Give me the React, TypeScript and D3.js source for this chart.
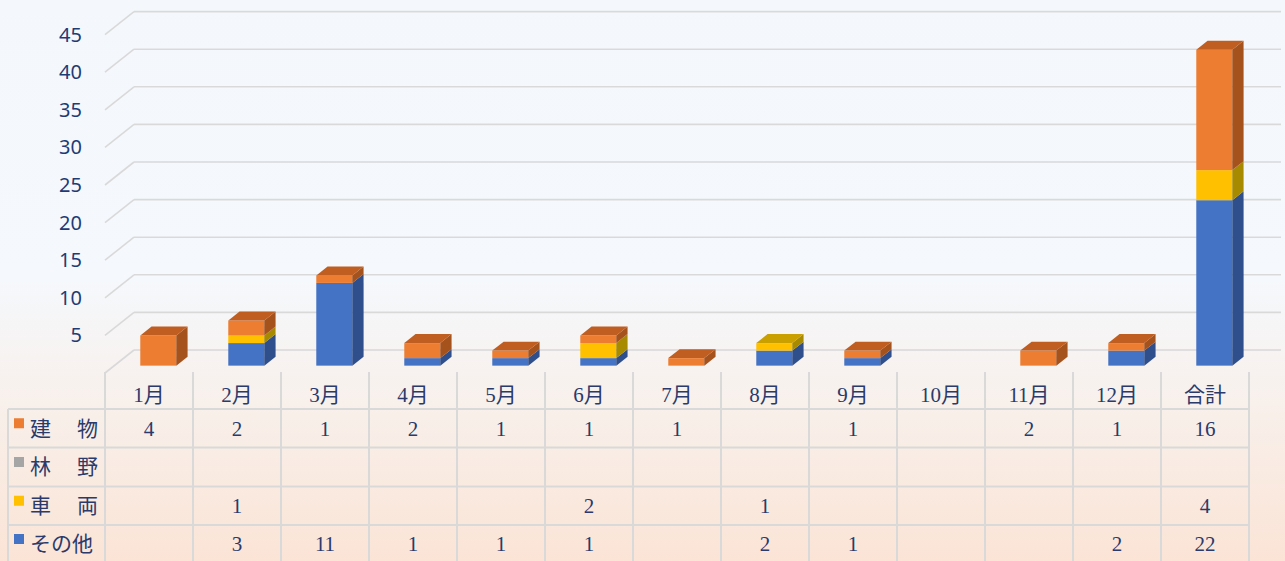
import React from "react";
import * as d3 from "d3";

// chart data
const categories = ["1月", "2月", "3月", "4月", "5月", "6月", "7月", "8月", "9月", "10月", "11月", "12月", "合計"];
const buildingValues = [4, 2, 1, 2, 1, 1, 1, null, 1, null, 2, 1, 16];
const forestValues = [null, null, null, null, null, null, null, null, null, null, null, null, null];
const vehicleValues = [null, 1, null, null, null, 2, null, 1, null, null, null, null, 4];
const otherValues = [null, 3, 11, 1, 1, 1, null, 2, 1, null, null, 2, 22];
const yTicks = [5, 10, 15, 20, 25, 30, 35, 40, 45];

const seriesInfo = [
  { key: "building", label: "建物", values: buildingValues, front: "#ED7D31", top: "#BF5E20", side: "#A5521C" },
  { key: "forest", label: "林野", values: forestValues, front: "#A5A5A5", top: "#8A8A8A", side: "#777777" },
  { key: "vehicle", label: "車両", values: vehicleValues, front: "#FFC000", top: "#C9A000", side: "#A88A00" },
  { key: "other", label: "その他", values: otherValues, front: "#4472C4", top: "#3A62A8", side: "#2F4F8C" },
];

const W = 1285;
const H = 561;
const DX = 29; // depth offset of the 3d box
const DY = 23;
const D1 = 0.32; // bar front depth
const D2 = 0.71; // bar back depth
const TEXT = "#2a3a6c";
const GRID = "#d9d9d9";

export default function App() {
  const x = d3.scaleBand<string>().domain(categories).range([105, 1249]).paddingInner(0);
  const y = d3.scaleLinear().domain([0, 45]).range([373, 373 - 45 * 7.52]);
  const barW = 36;

  const rows = categories.map((c, i) => {
    const r: any = { cat: c };
    seriesInfo.forEach((s) => (r[s.key] = s.values[i] ?? 0));
    return r;
  });
  const stackKeys = ["other", "forest", "vehicle", "building"];
  const stacked = d3.stack<any>().keys(stackKeys)(rows);

  const px = (xv: number, d: number) => xv + d * DX;
  const py = (v: number, d: number) => y(v) - d * DY;

  const rowTop = [409, 447.5, 486.5, 525, 563];
  const colEdges = categories.map((c) => x(c)!).concat([x.range()[1]]);

  const bars: React.ReactNode[] = [];
  categories.forEach((c, i) => {
    const cx = x(c)! + x.bandwidth() / 2;
    const x0 = cx - barW / 2;
    const x1 = cx + barW / 2;
    const segs = stacked
      .map((layer) => ({ key: layer.key, y0: layer[i][0], y1: layer[i][1] }))
      .filter((s) => s.y1 > s.y0);
    segs.forEach((s, j) => {
      const info = seriesInfo.find((q) => q.key === s.key)!;
      const pts = (arr: [number, number][]) => arr.map((p) => p.join(",")).join(" ");
      bars.push(
        <rect key={`f-${i}-${s.key}`} x={px(x0, D1)} y={py(s.y1, D1)} width={barW}
          height={py(s.y0, D1) - py(s.y1, D1)} fill={info.front} />
      );
      bars.push(
        <polygon key={`s-${i}-${s.key}`} fill={info.side}
          points={pts([[px(x1, D1), py(s.y1, D1)], [px(x1, D2), py(s.y1, D2)], [px(x1, D2), py(s.y0, D2)], [px(x1, D1), py(s.y0, D1)]])} />
      );
      if (j === segs.length - 1) {
        bars.push(
          <polygon key={`t-${i}-${s.key}`} fill={info.top}
            points={pts([[px(x0, D1), py(s.y1, D1)], [px(x1, D1), py(s.y1, D1)], [px(x1, D2), py(s.y1, D2)], [px(x0, D2), py(s.y1, D2)]])} />
        );
      }
    });
  });

  return (
    <svg width={W} height={H} style={{ position: "absolute", left: 0, top: 0, display: "block" }}>
      <defs>
        <linearGradient id="bg" x1="0" y1="0" x2="0" y2="1">
          <stop offset="0" stopColor="#f4f8fd" />
          <stop offset="0.5" stopColor="#f5f8fc" />
          <stop offset="0.72" stopColor="#f8f0eb" />
          <stop offset="1" stopColor="#fbe4d6" />
        </linearGradient>
      </defs>
      <rect width={W} height={H} fill="url(#bg)" />

      {/* walls: gridlines and side diagonals */}
      {[0, ...yTicks].map((v) => (
        <g key={`g${v}`} stroke={GRID} strokeWidth={1.6} fill="none">
          <line x1={px(105, 1)} x2={1281} y1={py(v, 1)} y2={py(v, 1)} />
          <line x1={105} y1={y(v)} x2={px(105, 1)} y2={py(v, 1)} />
        </g>
      ))}

      {/* y axis labels */}
      {yTicks.map((v) => (
        <text key={`yl${v}`} x={82} y={y(v)} dy="0.35em" textAnchor="end" fontFamily="'Noto Sans', sans-serif"
          fontSize={20} fill="#1f3b76">
          {v}
        </text>
      ))}

      {bars}

      {/* data table */}
      <g stroke={GRID} strokeWidth={2}>
        {colEdges.map((ex, k) => (
          <line key={`v${k}`} x1={ex} x2={ex} y1={372} y2={H} />
        ))}
        <line x1={8} x2={8} y1={rowTop[0]} y2={H} />
        {rowTop.slice(0, 4).map((ry, k) => (
          <line key={`h${k}`} x1={8} x2={1249} y1={ry} y2={ry} />
        ))}
      </g>
      {categories.map((c) => (
        <text key={`c${c}`} x={x(c)! + x.bandwidth() / 2} y={395} dy="0.35em" textAnchor="middle"
          fontFamily="'Liberation Serif', 'Noto Sans CJK JP', serif" fontSize={21} fill={TEXT}>
          {c}
        </text>
      ))}
      {seriesInfo.map((s, r) => {
        const cy = (rowTop[r] + rowTop[r + 1]) / 2;
        const chars = s.label.split("");
        return (
          <g key={`row${s.key}`}>
            <rect x={14} y={cy - 10} width={10} height={10} fill={s.front} />
            {chars.length === 2 ? (
              <>
                <text x={30} y={cy} dy="0.35em" fontFamily="'Noto Sans CJK JP', serif" fontSize={21} fill={TEXT}>{chars[0]}</text>
                <text x={98} y={cy} dy="0.35em" textAnchor="end" fontFamily="'Noto Sans CJK JP', serif" fontSize={21} fill={TEXT}>{chars[1]}</text>
              </>
            ) : (
              <text x={30} y={cy} dy="0.35em" fontFamily="'Noto Sans CJK JP', serif" fontSize={21} fill={TEXT}>{s.label}</text>
            )}
            {s.values.map((v, i) =>
              v == null ? null : (
                <text key={`d${i}`} x={x(categories[i])! + x.bandwidth() / 2} y={cy} dy="0.35em" textAnchor="middle"
                  fontFamily="'Liberation Serif', serif" fontSize={21} fill={TEXT}>
                  {v}
                </text>
              )
            )}
          </g>
        );
      })}
    </svg>
  );
}
